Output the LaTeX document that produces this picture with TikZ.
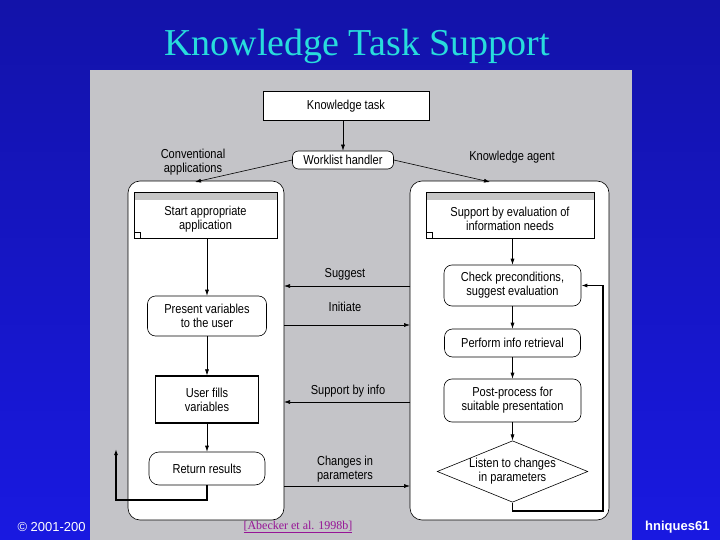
\documentclass[tikz,border=0pt]{standalone}
\usepackage{fontspec}
\setmainfont{Liberation Serif}
\newfontfamily\sansf[FakeStretch=0.85]{Liberation Sans}
\newfontfamily\sansb{Liberation Sans}
\usetikzlibrary{shapes.geometric,arrows.meta}
\definecolor{bgblue}{RGB}{25,25,225}
\definecolor{panel}{RGB}{196,196,200}
\definecolor{titlecyan}{RGB}{40,220,220}
\definecolor{cite}{RGB}{150,20,150}
\begin{document}
\begin{tikzpicture}[x=1pt,y=-1pt,
  txt/.style={font=\sansf\fontsize{13}{14}\selectfont,align=center,inner sep=0pt},
  box/.style={draw,fill=white,line width=0.6pt},
  rbox/.style={box,rounded corners=8pt},
  arr/.style={-{Latex[length=6pt,width=4pt]},line width=0.6pt},
  ln/.style={line width=0.6pt}]
\useasboundingbox (0,0) rectangle (720,540);
\shade[top color=bgblue!75!black,bottom color=bgblue] (0,0) rectangle (720,540);
\node[text=titlecyan,font=\fontsize{38}{40}\selectfont] (title) at (357,46) {Knowledge Task Support};
\fill[panel] (90,70) rectangle (632,540);
\node[text=white,font=\sansb\fontsize{13}{14}\selectfont,anchor=west] (copy) at (14,527) {© 2001-200};
\node[text=white,font=\sansb\bfseries\fontsize{13}{14}\selectfont,anchor=east] (pg) at (713,527) {hniques61};
\node[text=cite,font=\fontsize{12}{13}\selectfont] (cit) at (298,527) {\underline{[Abecker et al. 1998b]}};
% containers
\draw[rbox,rounded corners=12pt] (128,181) rectangle (284,520);
\draw[rbox,rounded corners=12pt] (410,181) rectangle (609,520);
\coordinate (lt) at (195,182); \coordinate (rt) at (490,182);
% top
\node[box,minimum width=166pt,minimum height=29pt,txt] (kt) at (346,106) {Knowledge task};
\node[rbox,rounded corners=6pt,minimum width=101pt,minimum height=18pt,txt] (wl) at (343,160) {Worklist handler};
\node[txt] (ca) at (193,162) {Conventional\\applications};
\node[txt] (ka) at (512,157) {Knowledge agent};
\draw[arr] (kt.south -| wl.north) -- (wl.north);
\draw[arr] (wl.west) -- (lt);
\draw[arr] (wl.east) -- (rt);
% start boxes with gray strip
\foreach \x/\y/\w in {134/192/143,426/192/168}{
  \fill[white] (\x,\y) rectangle ++(\w,46);
  \fill[gray!45] (\x,\y) rectangle ++(\w,8);
  \draw[ln] (\x,\y) rectangle ++(\w,46);
  \draw[ln] (\x,\y+40) -- ++(6,0) -- ++(0,6);
}
\node[txt,minimum width=143pt,minimum height=38pt] (sa) at (205.5,219) {Start appropriate\\application};
\node[txt,minimum width=168pt,minimum height=38pt] (se) at (510,219) {Support by evaluation of\\information needs};
% left column
\node[rbox,minimum width=119pt,minimum height=40pt,txt] (pv) at (207,316) {Present variables\\to the user};
\node[box,line width=1.2pt,minimum width=103pt,minimum height=47pt,txt] (uf) at (207,399.5) {User fills\\variables};
\node[rbox,rounded corners=10pt,minimum width=116pt,minimum height=33pt,txt] (rr) at (207,468.5) {Return results};
\draw[arr] (sa.south -| pv.north) -- (pv.north);
\draw[arr] (pv) -- (uf);
\draw[arr] (uf) -- (rr);
\coordinate (lp) at (116,449);
\draw[arr,line width=1.2pt] (rr.south) -- (207,500) -| (lp);
% right column
\node[rbox,minimum width=137pt,minimum height=41pt,txt] (cp) at (512.5,285.5) {Check preconditions,\\suggest evaluation};
\node[rbox,minimum width=136pt,minimum height=28pt,txt] (pr) at (512.5,343) {Perform info retrieval};
\node[rbox,minimum width=137pt,minimum height=43pt,txt] (pp) at (512.5,400.5) {Post-process for\\suitable presentation};
\node[draw,fill=white,diamond,aspect=2.45,inner sep=0pt,minimum width=150pt,minimum height=61pt,txt,line width=0.6pt] (ls) at (512.5,471.5) {Listen to changes\\in parameters};
\draw[arr] (se.south -| cp.north) -- (cp.north);
\draw[arr] (cp) -- (pr);
\draw[arr] (pr) -- (pp);
\draw[arr] (pp) -- (ls);
\draw[arr,line width=1.2pt] (ls.south) -- (512.5,511) -- (603,511) |- (cp.east);
% middle arrows
\draw[arr] (410,286) -- (284,286);
\node[txt] (sg) at (345,274) {Suggest};
\draw[arr] (284,325) -- (410,325);
\node[txt] (in) at (345,307) {Initiate};
\draw[arr] (410,402) -- (284,402);
\node[txt] (sb) at (348,391) {Support by info};
\draw[arr] (284,486) -- (410,486);
\node[txt] (cg) at (345,469) {Changes in\\parameters};
\end{tikzpicture}
\end{document}
